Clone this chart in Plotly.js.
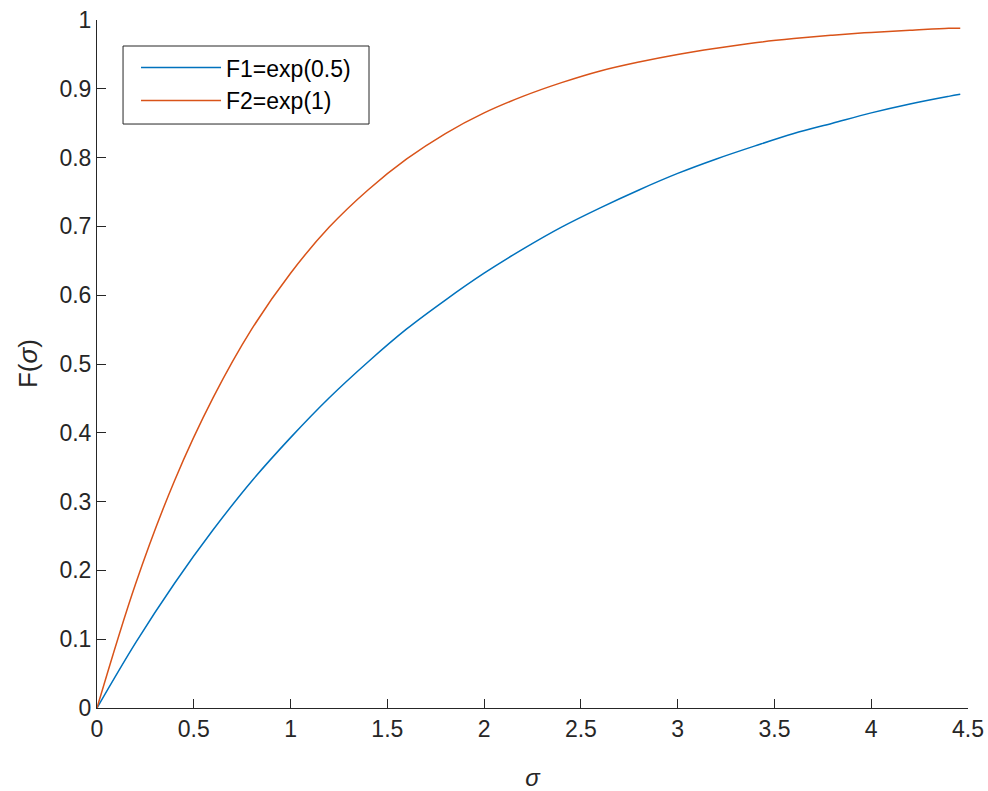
<!DOCTYPE html>
<html>
<head>
<meta charset="utf-8">
<script src="https://cdn.plot.ly/plotly-3.0.1.min.js"></script>
<style>html,body{margin:0;padding:0;background:#fff;}#chart{width:988px;height:791px;}</style>
</head>
<body>
<div id="chart"></div>
<script>
// sigma values (x axis)
var sigma = [0, 0.2, 0.4, 0.6, 0.8, 1.0, 1.2, 1.4, 1.6, 1.8, 2.0, 2.2, 2.4, 2.6, 2.8, 3.0, 3.2, 3.4, 3.6, 3.8, 4.0, 4.2, 4.4, 4.46];
// F1 = exp(0.5) curve
var f1 = [0, 0.095, 0.181, 0.259, 0.330, 0.393, 0.451, 0.503, 0.551, 0.593, 0.632, 0.667, 0.699, 0.727, 0.753, 0.777, 0.798, 0.817, 0.835, 0.850, 0.865, 0.878, 0.889, 0.892];
// F2 = exp(1) curve
var f2 = [0, 0.181, 0.330, 0.451, 0.551, 0.632, 0.699, 0.753, 0.798, 0.835, 0.865, 0.889, 0.909, 0.926, 0.939, 0.950, 0.959, 0.967, 0.973, 0.978, 0.982, 0.985, 0.988, 0.988];
var seriesNames = ['F1=exp(0.5)', 'F2=exp(1)'];
var xTicks = [0, 0.5, 1, 1.5, 2, 2.5, 3, 3.5, 4, 4.5];
var yTicks = [0, 0.1, 0.2, 0.3, 0.4, 0.5, 0.6, 0.7, 0.8, 0.9, 1];
var xTitle = '<i>σ</i>';
var yTitle = 'F(<i>σ</i>)';

var font = 'Liberation Sans, Arial, Helvetica, sans-serif';
var axColor = '#262626';

var traces = [
  {x: sigma, y: f1, name: seriesNames[0], mode: 'lines', line: {color: '#0072BD', width: 1.5, shape: 'spline'}},
  {x: sigma, y: f2, name: seriesNames[1], mode: 'lines', line: {color: '#D95319', width: 1.5, shape: 'spline'}}
];

var layout = {
  width: 988, height: 791,
  margin: {l: 97, r: 20, t: 20, b: 83},
  paper_bgcolor: '#fff', plot_bgcolor: '#fff',
  font: {family: font, size: 23, color: axColor},
  showlegend: true,
  legend: {
    x: 0.0448, y: 0.962, xanchor: 'left', yanchor: 'top',
    bgcolor: 'rgba(0,0,0,0)', borderwidth: 0,
    font: {family: font, size: 23, color: '#000'},
    itemwidth: 80, tracegroupgap: 0
  },
  shapes: [{
    type: 'rect', xref: 'paper', yref: 'paper', layer: 'below',
    x0: 0.0299, x1: 0.3123, y0: 0.8488, y1: 0.9622,
    line: {color: axColor, width: 1}, fillcolor: '#fff'
  }],
  annotations: [{
    text: yTitle, xref: 'paper', yref: 'paper', x: -0.0792, y: 0.5,
    xanchor: 'center', yanchor: 'middle', textangle: -90, showarrow: false,
    font: {family: font, size: 26, color: axColor}
  }],
  xaxis: {
    range: [0, 4.5], tickvals: xTicks, ticks: 'inside', ticklen: 9, tickcolor: axColor,
    showline: true, linecolor: axColor, linewidth: 1, showgrid: false, zeroline: false,
    tickfont: {family: font, size: 23, color: axColor},
    title: {text: xTitle, font: {family: font, size: 24, color: axColor}, standoff: 28}
  },
  yaxis: {
    range: [0, 1], tickvals: yTicks, ticks: 'inside', ticklen: 9, tickcolor: axColor,
    showline: true, linecolor: axColor, linewidth: 1, showgrid: false, zeroline: false,
    tickfont: {family: font, size: 23, color: axColor}
  }
};

Plotly.newPlot('chart', traces, layout, {displayModeBar: false, staticPlot: true});
</script>
</body>
</html>
